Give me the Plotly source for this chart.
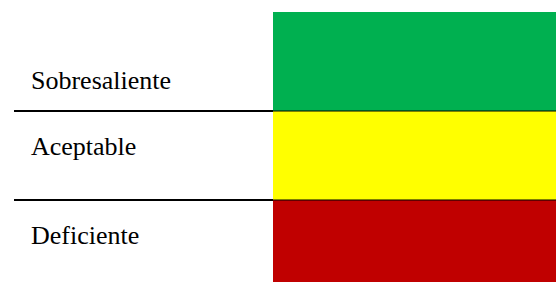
import plotly.graph_objects as go

# Bands, bottom to top
categories = ["Deficiente", "Aceptable", "Sobresaliente"]
band_heights = [82, 89, 99]
band_colors = ["#C00000", "#FFFF00", "#00B050"]
# vertical nudges (px) of labels relative to band centres
label_shifts = [6, 9.5, -18.5]

W, H = 556, 282
bar_left = 273 / W
line_left = 14 / W
text_left = 29 / W

fig = go.Figure()
for cat, h, c in zip(categories, band_heights, band_colors):
    fig.add_trace(go.Bar(
        x=[0], y=[h], name=cat, width=1,
        marker=dict(color=c, line=dict(width=0)),
        showlegend=False, hoverinfo="skip",
    ))

bases = []
acc = 0
for h in band_heights:
    bases.append(acc)
    acc += h

shapes = []
for b in bases[1:]:
    shapes.append(dict(type="line", xref="paper", yref="y", x0=line_left, x1=bar_left,
                       y0=b, y1=b, line=dict(color="black", width=2.2), layer="above"))
    shapes.append(dict(type="line", xref="paper", yref="y", x0=bar_left, x1=1,
                       y0=b, y1=b, line=dict(color="black", width=1.2), layer="above"))

annotations = []
for cat, b, h, s in zip(categories, bases, band_heights, label_shifts):
    annotations.append(dict(
        text=cat, xref="paper", yref="y", x=text_left, y=b + h / 2, yshift=s,
        xanchor="left", yanchor="middle", showarrow=False,
        font=dict(family="Liberation Serif, Times New Roman, serif", size=26, color="#000000"),
    ))

fig.update_layout(
    width=W, height=H,
    margin=dict(l=0, r=0, t=0, b=0),
    paper_bgcolor="white", plot_bgcolor="white",
    barmode="stack", bargap=0,
    xaxis=dict(domain=[bar_left, 1], range=[-0.5, 0.5], visible=False, fixedrange=True),
    yaxis=dict(domain=[0, 1], range=[0, H], visible=False, fixedrange=True),
    shapes=shapes, annotations=annotations,
)

fig.write_html(
    "out.html",
    config={"displayModeBar": False},
    post_script="document.body.style.margin='0';document.body.style.overflow='hidden';",
)
